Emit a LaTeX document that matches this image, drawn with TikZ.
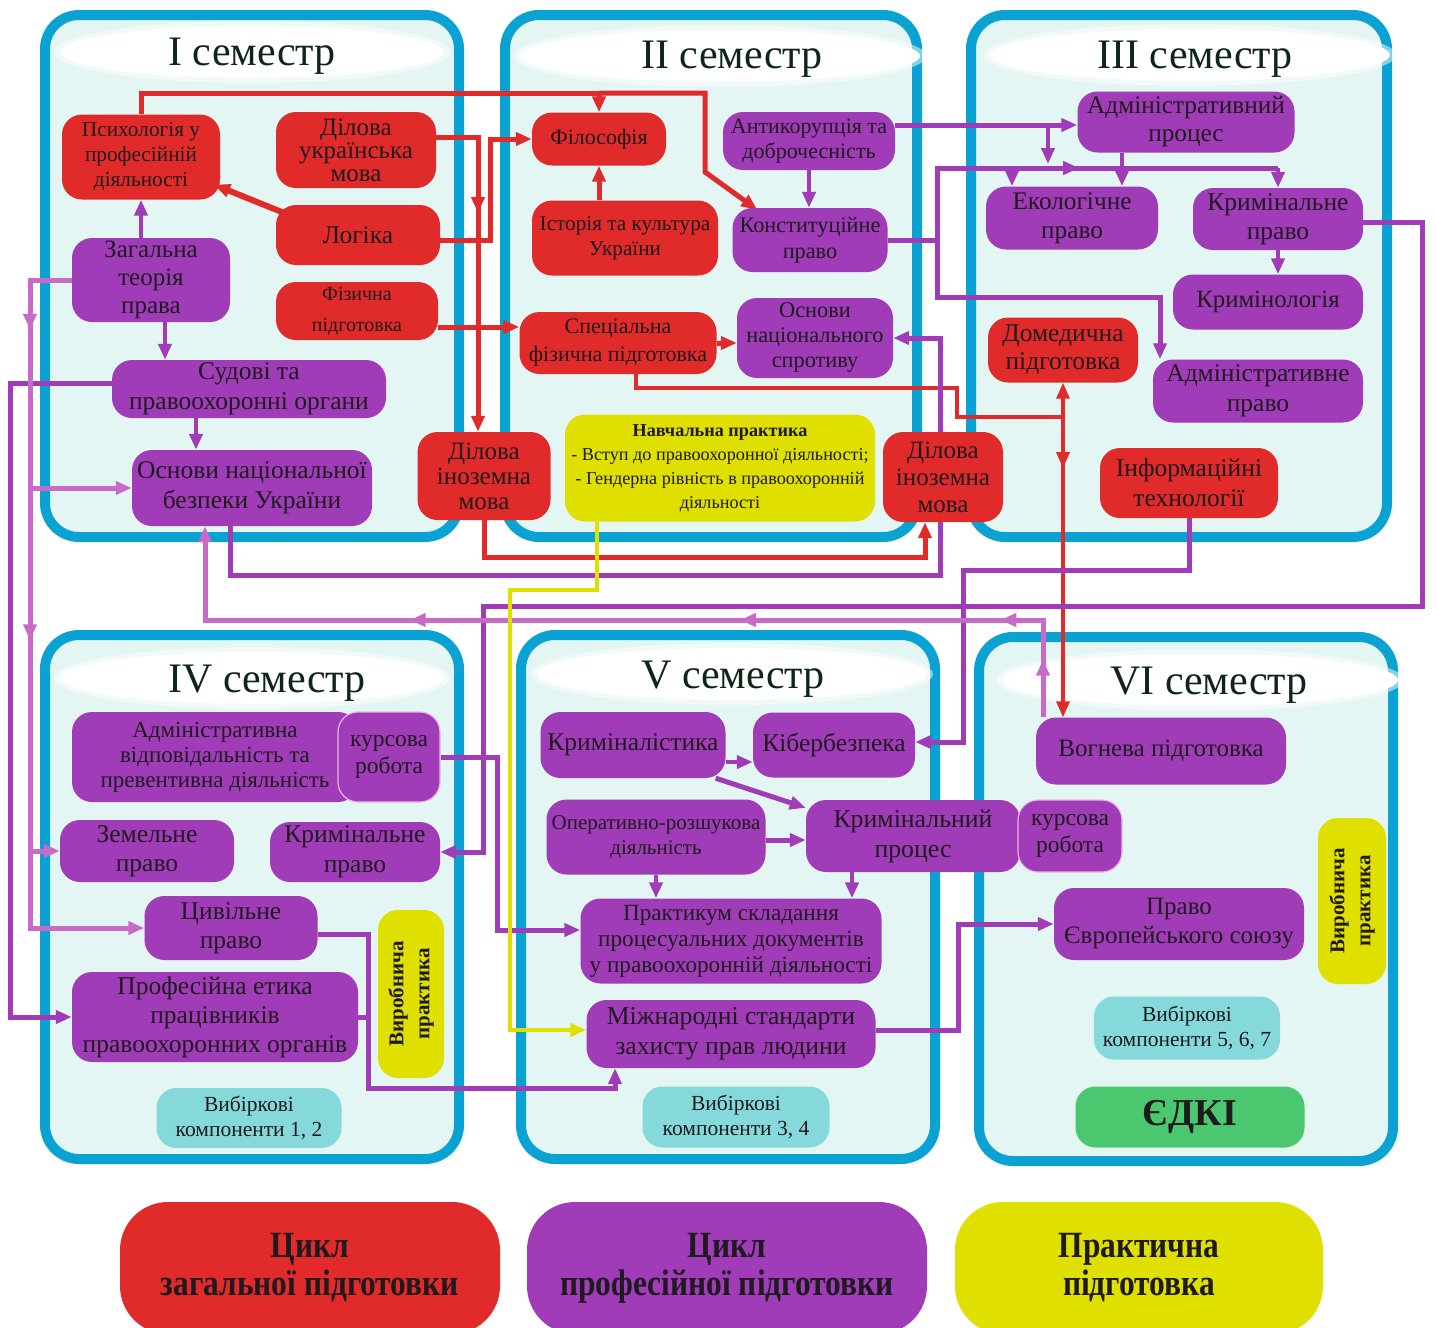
\documentclass[tikz,border=0pt]{standalone}
\usepackage{fontspec}
\setmainfont{Liberation Serif}
\newfontfamily\condfont[FakeStretch=0.85]{Liberation Serif}
\usetikzlibrary{arrows.meta, decorations.markings}

\definecolor{cred}{HTML}{E12A2A}
\definecolor{cpurp}{HTML}{A03CB7}
\definecolor{corch}{HTML}{C86BC8}
\definecolor{cyel}{HTML}{DFDF00}
\definecolor{cteal}{HTML}{86D9DA}
\definecolor{cgreen}{HTML}{4BC86F}
\definecolor{cblue}{HTML}{0AA2D3}
\definecolor{cpanel}{HTML}{E3F6F3}
\definecolor{cpink}{HTML}{E8B8E8}
\definecolor{ctext}{HTML}{1E1A1E}
\definecolor{ctitle}{HTML}{0D2618}

\newcommand{\fs}[2]{\fontsize{#1}{#2}\selectfont}

\pgfdeclarelayer{back}
\pgfdeclarelayer{mid}
\pgfsetlayers{back,mid,main}

\tikzset{
	panel/.style={draw=cblue, line width=10pt, fill=cpanel, rounded corners=34pt},
	ttl/.style={anchor=base, text=ctitle, font=\fs{42}{46}},
	sz/.style 2 args={minimum width=#1pt, minimum height=#2pt},
	box/.style={rounded corners=20pt, align=center, inner sep=1pt, text=ctext, font=\fs{25.5}{29}},
	gen/.style={box, fill=cred},
	prof/.style={box, fill=cpurp},
	prac/.style={box, fill=cyel},
	opt/.style={box, fill=cteal, font=\fs{21.5}{25}},
	kurs/.style={box, fill=cpurp, draw=cpink, line width=1.2pt, font=\fs{23.5}{27}},
	rl/.style={draw=cred, line width=5pt},
	rlt/.style={draw=cred, line width=3.5pt},
	pl/.style={draw=cpurp, line width=5pt},
	plt/.style={draw=cpurp, line width=4pt},
	ol/.style={draw=corch, line width=5pt},
	yl/.style={draw=cyel, line width=4pt},
	midarr/.style={postaction={decorate, decoration={markings,
		mark=at position #1 with {\arrow{Triangle[length=16pt,width=13pt]}}}}}
}

\begin{document}
\begin{tikzpicture}[x=1pt, y=-1pt, >={Triangle[length=16pt,width=13pt]}]
	\clip (0,0) rectangle (1436,1328);

	\begin{pgfonlayer}{back}
	% Draw the semester panels
	\draw[panel] (45,15) rectangle (459,537);
	\draw[panel] (505,15) rectangle (917,537);
	\draw[panel] (971,15) rectangle (1387,537);
	\draw[panel] (45,635) rectangle (459,1159);
	\draw[panel] (521,635) rectangle (935,1159);
	\draw[panel] (979,637) rectangle (1393,1161);

	% Draw the title clouds
	\foreach \cx/\cy/\rx in {252/52/192, 720/56/200, 1190/55/200, 252/678/192, 732/674/195, 1200/680/198}{
		\fill[white, opacity=0.5] (\cx,\cy) ellipse [x radius=\rx+6, y radius=31];
		\fill[white] (\cx,\cy) ellipse [x radius=\rx, y radius=26];
	}
	\end{pgfonlayer}

	\node[ttl] (t1) at (252,65) {I семестр};
	\node[ttl] (t2) at (732,68) {II семестр};
	\node[ttl] (t3) at (1195,68) {III семестр};
	\node[ttl] (t4) at (267,692) {IV семестр};
	\node[ttl] (t5) at (733,688) {V семестр};
	\node[ttl] (t6) at (1209,694) {VI семестр};

	% I semester
	\node[gen, sz={158}{85}, font=\fs{21.3}{25}] (psy) at (141,157) {Психологія у\\професійній\\діяльності};
	\node[gen, sz={160}{76}, font=\fs{25}{23}] (dum) at (356,150) {Ділова\\українська\\мова};
	\node[gen, sz={164}{60}] (log) at (358,235) {Логіка};
	\node[prof, sz={158}{84}, font=\fs{25}{28}] (zag) at (151,280) {Загальна\\теорія\\права};
	\node[gen, sz={162}{58}, font=\fs{20}{31}] (fiz) at (357,311) {Фізична\\підготовка};
	\node[prof, sz={274}{58}, font=\fs{25.5}{30}] (sud) at (249,389) {Судові та\\правоохоронні органи};
	\node[prof, sz={240}{76}, font=\fs{25.5}{30}] (onb) at (252,488) {Основи національної\\безпеки України};
	\node[gen, sz={133}{88}, font=\fs{25}{25}] (dim1) at (484,476) {Ділова\\іноземна\\мова};

	% II semester
	\node[gen, sz={134}{53}, font=\fs{22}{25}] (fil) at (599,139) {Філософія};
	\node[prof, sz={172}{58}, font=\fs{22}{25}] (ant) at (809,141) {Антикорупція та\\доброчесність};
	\node[gen, sz={186}{75}, font=\fs{21.2}{25}] (ist) at (625,238) {Історія та культура\\України};
	\node[prof, sz={155}{64}, font=\fs{22.3}{26}] (kon) at (810,240) {Конституційне\\право};
	\node[gen, sz={197}{62}, font=\fs{22}{28}] (sfp) at (618,343) {Спеціальна\\фізична підготовка};
	\node[prof, sz={156}{80}, font=\fs{22.3}{25}] (ons) at (815,338) {Основи\\національного\\спротиву};
	\node[prac, sz={310}{107}, font=\fs{18.2}{24}] (np) at (720,468) {\textbf{Навчальна практика}\\- Вступ до правоохоронної діяльності;\\- Гендерна рівність в правоохоронній\\діяльності};
	\node[gen, sz={120}{90}, font=\fs{25}{27}] (dim2) at (943,477) {Ділова\\іноземна\\мова};

	% III semester
	\node[prof, sz={217}{61}, font=\fs{25.3}{28}] (adp) at (1186,122) {Адміністративний\\процес};
	\node[prof, sz={172}{63}, font=\fs{25.3}{29}] (eko) at (1072,218) {Екологічне\\право};
	\node[prof, sz={170}{62}, font=\fs{25.5}{29}] (krp3) at (1278,219) {Кримінальне\\право};
	\node[prof, sz={190}{55}, font=\fs{24.8}{28}] (kri) at (1268,302) {Кримінологія};
	\node[gen, sz={150}{65}, font=\fs{25.5}{28}] (dom) at (1063,350) {Домедична\\підготовка};
	\node[prof, sz={210}{63}, font=\fs{25.5}{30}] (apr) at (1258,391) {Адміністративне\\право};
	\node[gen, sz={178}{70}, font=\fs{25.5}{30}] (inf) at (1189,483) {Інформаційні\\технології};

	% IV semester
	\node[prof, sz={286}{90}, font=\fs{23}{25}] (avd) at (215,757) {Адміністративна\\відповідальність та\\превентивна діяльність};
	\node[kurs, sz={102}{90}] (kr1) at (389,757) {курсова\\робота};
	\node[prof, sz={174}{62}, font=\fs{25.5}{29}] (zem) at (147,851) {Земельне\\право};
	\node[prof, sz={170}{60}, font=\fs{25.5}{30}] (krp4) at (355,852) {Кримінальне\\право};
	\node[prof, sz={173}{64}, font=\fs{25.5}{29}] (civ) at (231,928) {Цивільне\\право};
	\node[prac, sz={168}{66}, rotate=90, font=\bfseries\fs{21}{26}] (vp4) at (411,994) {Виробнича\\практика};
	\node[prof, sz={286}{90}, font=\fs{25.5}{29}] (pet) at (215,1017) {Професійна етика\\працівників\\правоохоронних органів};
	\node[opt, sz={185}{60}] (vk12) at (249,1118) {Вибіркові\\компоненти 1, 2};

	% V semester
	\node[prof, sz={185}{66}] (krim) at (633,745) {Криміналістика};
	\node[prof, sz={162}{65}] (kib) at (834,745) {Кібербезпека};
	\node[prof, sz={219}{75}, font=\fs{21}{25}] (ord) at (656,837) {Оперативно-розшукова\\діяльність};
	\node[prof, sz={214}{72}, font=\fs{25.8}{30}] (kpr) at (913,836) {Кримінальний\\процес};
	\node[kurs, sz={104}{72}] (kr2) at (1070,836) {курсова\\робота};
	\node[prof, sz={301}{85}, font=\fs{23.2}{26}] (prk) at (731,941) {Практикум складання\\процесуальних документів\\у правоохоронній діяльності};
	\node[prof, sz={289}{68}, font=\fs{25.7}{30}] (mst) at (731,1034) {Міжнародні стандарти\\захисту прав людини};
	\node[opt, sz={187}{61}] (vk34) at (736,1117) {Вибіркові\\компоненти 3, 4};

	% VI semester
	\node[prof, sz={250}{67}, font=\fs{25}{28}] (vog) at (1161,751) {Вогнева підготовка};
	\node[prof, sz={250}{72}, font=\fs{25}{29}] (pes) at (1179,924) {Право\\Європейського союзу};
	\node[prac, sz={166}{68}, rotate=90, font=\bfseries\fs{21}{26}] (vp6) at (1352,901) {Виробнича\\практика};
	\node[opt, sz={186}{63}] (vk57) at (1187,1028) {Вибіркові\\компоненти 5, 6, 7};
	\node[box, fill=cgreen, sz={229}{61}, font=\bfseries\fs{38}{40}] (edk) at (1190,1117) {ЄДКІ};

	% Legend
	\node[gen, sz={380}{132}, rounded corners=48pt, font=\condfont\bfseries\fs{37}{38}] (lg1) at (310,1268) {Цикл\\загальної підготовки};
	\node[prof, sz={400}{132}, rounded corners=48pt, font=\condfont\bfseries\fs{37}{38}] (lg2) at (727,1268) {Цикл\\професійної підготовки};
	\node[prac, sz={368}{132}, rounded corners=48pt, font=\condfont\bfseries\fs{37}{38}] (lg3) at (1139,1268) {Практична\\підготовка};

	\begin{pgfonlayer}{mid}
	% Red links
	\draw[rl,->] (psy.north) |- (fil.north |- 0,93) -- (fil.north);
	\draw[rl,->] (fil.north |- 0,93) -| (705,172) -- ([xshift=25pt,yshift=-2pt]kon.north west);
	\draw[rl,->,midarr=0.35] ([yshift=13pt]dum.east) -| ([xshift=-6pt]dim1.north);
	\draw[rl,->] ([yshift=-5pt]log.east) -- (490,240) |- (fil.west);
	\draw[rl,->] ([yshift=-16pt]fiz.east) -- ([yshift=16pt]sfp.west);
	\draw[rl,->] (ist.north -| fil.south) -- (fil.south);
	\draw[rl,->] (sfp.east) -- (sfp.east -| ons.west);
	\draw[rl,->,line width=6pt] ([xshift=8pt,yshift=-8pt]log.north west) -- ([xshift=-6pt,yshift=15pt]psy.south east);
	\draw[rlt,->] ([xshift=18pt]sfp.south) |- (957,388) |- (dom.south |- 0,417) -- (dom.south);
	\draw[rlt,->,midarr=0.17] (dom.south |- 0,417) -- (dom.south |- vog.north);
	\draw[rl,->] (dim1.south) |- (925,557) -- ([xshift=-18pt]dim2.south);

	% Purple links
	\draw[plt,->] (zag.north -| psy.south) -- (psy.south);
	\draw[plt,->] ([xshift=14pt]zag.south) -- ([xshift=14pt]zag.south |- sud.north);
	\draw[plt,->] ([xshift=-53pt]sud.south) -- ([xshift=-53pt]sud.south |- onb.north);
	\draw[pl,->] ([yshift=6pt]sud.west) -| (pet.west -| 10,0) -- (pet.west);
	\draw[pl,->] ([xshift=-22pt]onb.south) |- (940,575) |- (ons.east);
	\draw[pl,->] ([yshift=16pt]ant.east) -- ([yshift=16pt]ant.east -| adp.west);
	\draw[plt,->] (1048,125) -- (1048,164);
	\draw[plt,->] (ant.south) -- (ant.south |- kon.north);
	\draw[pl,midarr=0.57] (kon.east) -| (937,168) -- (krp3.north |- 0,168);
	\draw[plt,->] (krp3.north |- 0,168) -- (krp3.north);
	\draw[plt,->] (eko.north -| 1012,0) ++(0,-19) -- (eko.north -| 1012,0);
	\draw[plt,->] ([xshift=-64pt]adp.south) -- ([xshift=-64pt]adp.south |- eko.north);
	\draw[pl,->] (937,240) |- (1160,297) -- (apr.north -| 1160,0);
	\draw[plt,->] (krp3.south) -- (krp3.south |- kri.north);
	\draw[pl,->] ([yshift=-3pt]krp3.east) -| (1422,606) -| (krp4.east -| 483,0) -- (krp4.east);
	\draw[pl,->] (inf.south) |- (963,570) |- ([yshift=3pt]kib.east);
	\draw[pl,->] (kr1.east) -| ([yshift=11pt]prk.west -| 497,0) -- ([yshift=11pt]prk.west);
	\draw[pl,->] ([yshift=-6pt]civ.east) -| (368,1088) -| ([xshift=-116pt]mst.south);
	\draw[pl] (pet.east) -- (pet.east -| 368,0);
	\draw[plt,->] ([yshift=-17pt]krim.east) -- ([yshift=-17pt]krim.east -| kib.west);
	\draw[pl,->] ([xshift=-10pt]krim.south east) -- ([yshift=-8pt]kpr.north west);
	\draw[pl,->] ([yshift=-3pt]ord.east) -- ([yshift=-3pt]ord.east -| kpr.west);
	\draw[plt,->] (ord.south) -- (ord.south |- prk.north);
	\draw[plt,->] ([xshift=-61pt]kpr.south) -- ([xshift=-61pt]kpr.south |- prk.north);
	\draw[pl,->] ([yshift=4pt]mst.east) -| (pes.west -| 958,0) -- (pes.west);

	% Orchid links
	\draw[ol,->,midarr=0.114,midarr=0.5] (zag.west) -| (civ.west -| 30,0) -- (civ.west);
	\draw[ol,->] (onb.west -| 30,0) -- (onb.west);
	\draw[ol,->] (zem.west -| 30,0) -- (zem.west);
	\draw[ol,->,midarr=0.056,midarr=0.136,midarr=0.389,midarr=0.71] ([xshift=-118pt]vog.north) |- (205,620) -- ([xshift=-47pt]onb.south);

	% Practice link
	\draw[yl,->] ([xshift=-123pt]np.south) |- (510,590) |- ([yshift=4pt]mst.west);
	\end{pgfonlayer}

\end{tikzpicture}
\end{document}
